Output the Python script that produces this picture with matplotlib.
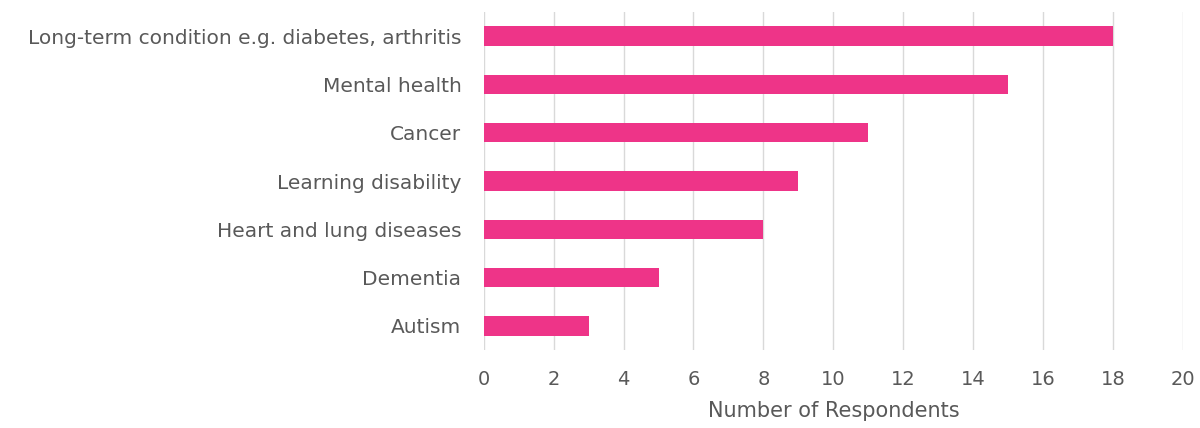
import matplotlib.pyplot as plt

categories = ['Long-term condition e.g. diabetes, arthritis', 'Mental health', 'Cancer',
              'Learning disability', 'Heart and lung diseases', 'Dementia', 'Autism']
respondents = [18, 15, 11, 9, 8, 5, 3]

fig = plt.figure(figsize=(12, 4.28), dpi=100)
ax = fig.add_axes([0.403, 0.182, 0.583, 0.79])

ypos = list(range(len(categories)))[::-1]
ax.barh(ypos, respondents, height=0.4, color='#EE3488', zorder=3)

ax.set_xlim(0, 20)
ax.set_ylim(-0.5, len(categories) - 0.5)
ax.set_xticks(range(0, 21, 2))
ax.set_yticks(ypos)
ax.set_yticklabels(categories)
ax.grid(axis='x', color='#d9d9d9', linewidth=1, zorder=0)
for s in ax.spines.values():
    s.set_visible(False)
ax.tick_params(axis='y', length=0, labelsize=14.5, colors='#595959', pad=16)
ax.tick_params(axis='x', length=0, labelsize=14, colors='#595959', pad=14)
ax.set_xlabel('Number of Respondents', fontsize=15, color='#595959', labelpad=9)

fig.savefig('out.png', dpi=100, facecolor='white')
